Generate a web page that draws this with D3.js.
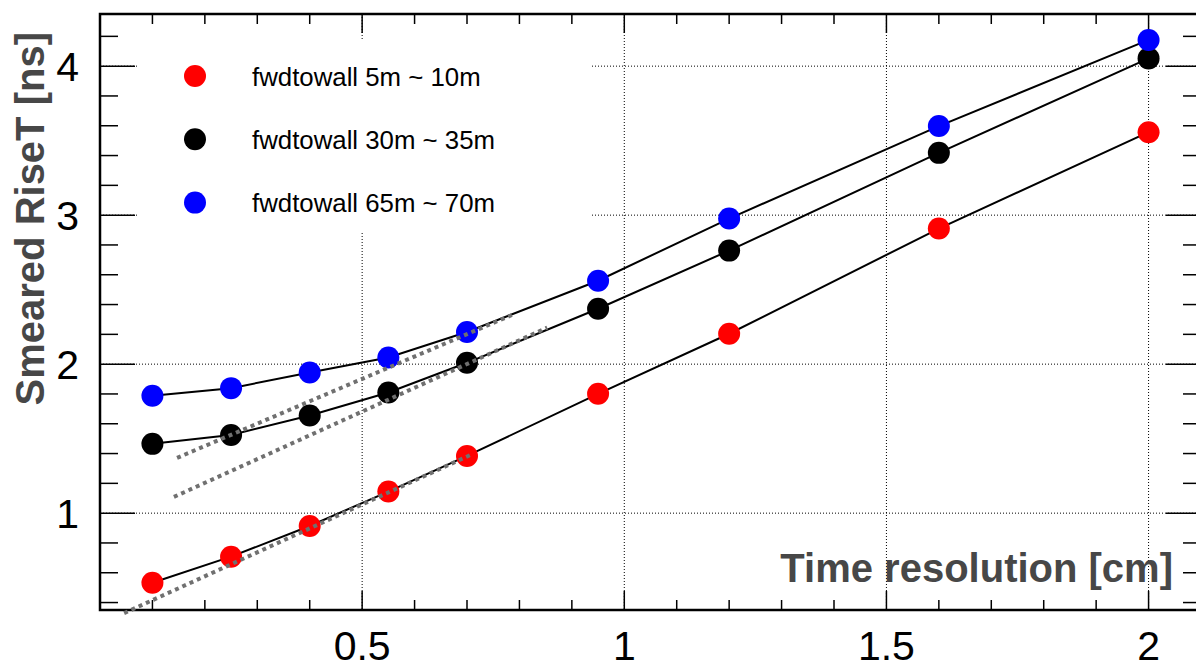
<!DOCTYPE html>
<html>
<head>
<meta charset="utf-8">
<script src="https://cdn.jsdelivr.net/npm/d3@7"></script>
<style>
  html, body { margin: 0; padding: 0; background: #fff; }
  svg { display: block; }
  text { font-family: "Liberation Sans", Arial, Helvetica, sans-serif; }
</style>
</head>
<body>
<svg id="chart" width="1196" height="668"></svg>
<script>
// ---- data ----
const xValues = [0.1, 0.25, 0.4, 0.55, 0.7, 0.95, 1.2, 1.6, 2.0];
const red   = [0.533, 0.708, 0.914, 1.145, 1.384, 1.801, 2.204, 2.910, 3.557];
const black = [1.465, 1.525, 1.655, 1.810, 2.009, 2.372, 2.762, 3.418, 4.052];
const blue  = [1.788, 1.839, 1.944, 2.045, 2.216, 2.560, 2.977, 3.598, 4.176];
const seriesNames = ["fwdtowall 5m ~ 10m", "fwdtowall 30m ~ 35m", "fwdtowall 65m ~ 70m"];
const seriesColors = ["#ff0000", "#000000", "#0000ff"];
// dotted fit lines: [x, y] end points
const fitRed  = [[0.046, 0.329], [0.707, 1.391]];
const fitLow  = [[0.141, 1.109], [0.853, 2.245]];
const fitHigh = [[0.147, 1.371], [0.787, 2.332]];
const xMajorTicks = [0.5, 1, 1.5, 2];
const xTickLabels = ["0.5", "1", "1.5", "2"];
const yMajorTicks = [1, 2, 3, 4];
const yTickLabels = ["1", "2", "3", "4"];
const xTitle = "Time resolution [cm]";
const yTitle = "Smeared RiseT [ns]";

// ---- layout ----
const L = 100, R = 1201, T = 14, B = 610;
const x = d3.scaleLinear().domain([0, 2.1]).range([L, R]);
const y = d3.scaleLinear().domain([0.35, 4.35]).range([B, T]);
const svg = d3.select("#chart");

const xMinor = d3.range(1, 21).map(i => i / 10).filter(v => !xMajorTicks.some(m => Math.abs(m - v) < 1e-9));
const yMinor = d3.range(2, 22).map(i => i / 5).filter(v => !yMajorTicks.some(m => Math.abs(m - v) < 1e-9));

// grid
const grid = svg.append("g").attr("stroke", "#000").attr("stroke-width", 1).attr("stroke-dasharray", "1,2");
grid.selectAll(".gx").data(xMajorTicks).join("line")
  .attr("x1", d => x(d)).attr("x2", d => x(d)).attr("y1", T).attr("y2", B);
grid.selectAll(".gy").data(yMajorTicks).join("line")
  .attr("x1", L).attr("x2", R).attr("y1", d => y(d)).attr("y2", d => y(d));

// legend box (white, covers grid)
svg.append("rect").attr("x", 138).attr("y", 41).attr("width", 452).attr("height", 190).attr("fill", "#fff");

// ticks
const ticks = svg.append("g").attr("stroke", "#000").attr("stroke-width", 1.5);
function xt(vals, len) {
  ticks.append("g").selectAll("line").data(vals).join("line")
    .attr("x1", d => x(d)).attr("x2", d => x(d)).attr("y1", B).attr("y2", B - len);
  ticks.append("g").selectAll("line").data(vals).join("line")
    .attr("x1", d => x(d)).attr("x2", d => x(d)).attr("y1", T).attr("y2", T + len);
}
function yt(vals, len) {
  ticks.append("g").selectAll("line").data(vals).join("line")
    .attr("y1", d => y(d)).attr("y2", d => y(d)).attr("x1", L).attr("x2", L + len);
  ticks.append("g").selectAll("line").data(vals).join("line")
    .attr("y1", d => y(d)).attr("y2", d => y(d)).attr("x1", R).attr("x2", R - len);
}
xt(xMinor, 10); xt(xMajorTicks, 19);
yt(yMinor, 18); yt(yMajorTicks, 35);

// frame
svg.append("rect").attr("x", L).attr("y", T).attr("width", R - L).attr("height", B - T)
  .attr("fill", "none").attr("stroke", "#000").attr("stroke-width", 2.5);

// tick labels
svg.append("g").selectAll("text").data(xMajorTicks).join("text")
  .attr("x", d => x(d)).attr("y", 660).attr("text-anchor", "middle")
  .attr("font-size", 41).attr("fill", "#000").text((d, i) => xTickLabels[i]);
svg.append("g").selectAll("text").data(yMajorTicks).join("text")
  .attr("x", 79).attr("y", d => y(d) + 15).attr("text-anchor", "end")
  .attr("font-size", 41).attr("fill", "#000").text((d, i) => yTickLabels[i]);

// axis titles
svg.append("text").attr("x", 1173).attr("y", 582).attr("text-anchor", "end")
  .attr("font-size", 40).attr("font-weight", "bold").attr("fill", "#474747").text(xTitle);
svg.append("text").attr("transform", "translate(44,32) rotate(-90)").attr("text-anchor", "end")
  .attr("font-size", 40).attr("font-weight", "bold").attr("fill", "#474747").text(yTitle);

// series
const allSeries = [red, black, blue];
const line = d3.line().x(d => x(d[0])).y(d => y(d[1]));
allSeries.forEach((vals, si) => {
  const pts = xValues.map((xv, i) => [xv, vals[i]]);
  svg.append("path").datum(pts).attr("d", line)
    .attr("fill", "none").attr("stroke", "#000").attr("stroke-width", 2);
  svg.append("g").selectAll("circle").data(pts).join("circle")
    .attr("cx", d => x(d[0])).attr("cy", d => y(d[1])).attr("r", 11)
    .attr("fill", seriesColors[si]);
});

// fit lines (dotted gray)
[fitRed, fitLow, fitHigh].forEach(f => {
  svg.append("path").datum(f).attr("d", line)
    .attr("fill", "none").attr("stroke", "#707070").attr("stroke-width", 4)
    .attr("stroke-dasharray", "4,4");
});

// legend
const leg = svg.append("g");
seriesNames.forEach((name, i) => {
  const cy = 76 + i * 63.3;
  leg.append("circle").attr("cx", 195).attr("cy", cy).attr("r", 11).attr("fill", seriesColors[i]);
  leg.append("text").attr("x", 252).attr("y", cy + 9.5).attr("font-size", 25.8).attr("fill", "#000").text(name);
});
</script>
</body>
</html>
